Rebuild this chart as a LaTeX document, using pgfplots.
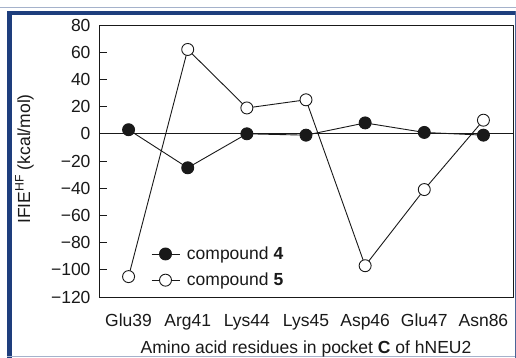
\documentclass[border=0pt]{standalone}
\usepackage{pgfplots}
\pgfplotsset{compat=1.18}
\usepackage{fontspec}
\setmainfont{Liberation Sans}
\definecolor{frameblue}{RGB}{30,62,125}
\definecolor{ink}{RGB}{25,25,25}
\begin{document}
\begin{tikzpicture}[x=1pt,y=1pt]
\useasboundingbox (0,0) rectangle (516,358);
\fill[white] (0,0) rectangle (516,358);
% frame
\draw[line width=1pt, frameblue!40] (0,350) -- (516,350);
\fill[frameblue] (9,343) rectangle (516,347);
\fill[frameblue] (7,0) rectangle (12,347);
\draw[line width=1pt, frameblue!40] (7,1) -- (516,1);
\fill[frameblue!80] (514.5,0) rectangle (516,347);
\begin{axis}[
  at={(99pt,61pt)}, anchor=south west,
  scale only axis, width=414pt, height=272pt,
  xmin=-0.5, xmax=6.5, ymin=-120, ymax=80,
  xtick={0,...,6},
  xticklabels={Glu39,Arg41,Lys44,Lys45,Asp46,Glu47,Asn86},
  ytick={-120,-100,...,80},
  yticklabels={−120,−100,−80,−60,−40,−20,0,20,40,60,80},
  tick label style={font=\fontsize{17.5}{20}\selectfont, text=ink},
  major x tick style={draw=none},
  tick pos=left, tick align=inside,
  major tick length=8pt,
  yticklabel style={xshift=-5pt},
  xticklabel style={anchor=base, yshift=-30pt},
  axis line style={ink, line width=0.9pt},
  every tick/.style={ink, line width=0.9pt},
  legend style={draw=none, fill=none, at={(axis description cs:0.118,0.11)}, anchor=west,
    font=\fontsize{17.5}{20}\selectfont, text=ink, row sep=8pt,
    /tikz/every odd column/.append style={column sep=5pt}},
  legend cell align=left,
  legend image code/.code={
    \draw[mark repeat=2,mark phase=2] plot coordinates {(0pt,0pt) (14pt,0pt) (28pt,0pt)};},
  clip=false,
]
\draw[ink, line width=0.9pt] (axis cs:-0.5,0) -- (axis cs:6.5,0);
\addplot[ink, line width=0.9pt, mark=*, mark size=6pt, mark options={fill=ink, draw=ink}]
  coordinates {(0,3) (1,-25) (2,0) (3,-1) (4,8) (5,1) (6,-1)};
\addlegendentry{compound \textbf{4}}
\addplot[ink, line width=0.9pt, mark=*, mark size=6pt, mark options={fill=white, draw=ink}]
  coordinates {(0,-105) (1,62) (2,19) (3,25) (4,-97) (5,-41) (6,10)};
\addlegendentry{compound \textbf{5}}
\end{axis}
\node[anchor=base, text=ink, font=\fontsize{17.5}{20}\selectfont] at (306,4) {Amino acid residues in pocket \textbf{C} of hNEU2};
\node[anchor=base, rotate=90, text=ink, font=\fontsize{17.5}{20}\selectfont] at (30,199) {IFIE\textsuperscript{HF} (kcal/mol)};
\end{tikzpicture}
\end{document}
